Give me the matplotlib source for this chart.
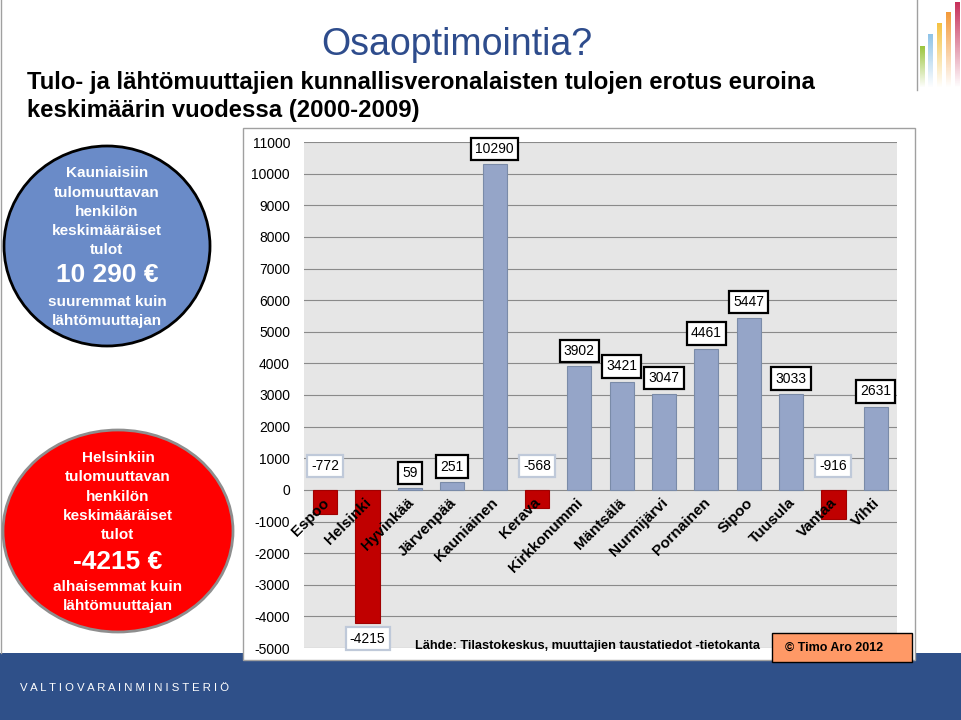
"""Slide: difference of in- and out-migrants' taxable income by municipality."""

import numpy as np
import matplotlib.pyplot as plt
from matplotlib.patches import Rectangle, Ellipse

plt.rcParams['font.family'] = ['Liberation Sans', 'DejaVu Sans']

W, H = 962, 720

municipalities = ["Espoo", "Helsinki", "Hyvinkää", "Järvenpää", "Kauniainen",
                  "Kerava", "Kirkkonummi", "Mäntsälä", "Nurmijärvi", "Pornainen",
                  "Sipoo", "Tuusula", "Vantaa", "Vihti"]
income_diff = [-772, -4215, 59, 251, 10290, -568, 3902, 3421, 3047, 4461,
               5447, 3033, -916, 2631]
y_ticks = list(range(-5000, 11001, 1000))

title = "Osaoptimointia?"
subtitle = ["Tulo- ja lähtömuuttajien kunnallisveronalaisten tulojen erotus euroina",
            "keskimäärin vuodessa (2000-2009)"]
blue_lines = ["Kauniaisiin", "tulomuuttavan", "henkilön", "keskimääräiset", "tulot"]
blue_big = "10 290 €"
blue_tail = ["suuremmat kuin", "lähtömuuttajan"]
red_lines = ["Helsinkiin", "tulomuuttavan", "henkilön", "keskimääräiset", "tulot"]
red_big = "-4215 €"
red_tail = ["alhaisemmat kuin", "lähtömuuttajan"]
source = "Lähde: Tilastokeskus, muuttajien taustatiedot -tietokanta"
credit = "© Timo Aro 2012"
ministry = "VALTIOVARAINMINISTERIÖ"

POS_COLOR = "#95A5C8"
NEG_COLOR = "#C00000"


def fx(px):
    return px / W


def fy(py):
    return 1 - py / H


fig = plt.figure(figsize=(W / 100, H / 100), dpi=100)
fig.patch.set_facecolor("white")

# footer band
fig.add_artist(Rectangle((0, 0), 1, fy(653), transform=fig.transFigure,
                         facecolor="#2F5089", edgecolor="none", zorder=0))
fig.text(fx(20), fy(688), " ".join(ministry), color="white", fontsize=8.2,
         va="center", ha="left")

# left slide border
fig.add_artist(plt.Line2D([fx(1), fx(1)], [fy(0), fy(653)], transform=fig.transFigure,
                          color="#A0A0A0", lw=1))

# logo in the top right corner
fig.add_artist(plt.Line2D([fx(917), fx(917)], [fy(0), fy(90)], transform=fig.transFigure,
                          color="#A0A0A0", lw=1))
logo_ax = fig.add_axes([fx(918), fy(92), fx(44), 92 / H])
logo_ax.set_xlim(0, 44)
logo_ax.set_ylim(92, 0)
logo_ax.axis("off")
logo_bars = [(2, 46, "#9BC53D"), (10, 34, "#8EC3E8"), (19, 23, "#F5C242"),
             (28, 12, "#F39A3A"), (37, 2, "#C8305A")]
for x0, top, col in logo_bars:
    rgb = np.array(plt.matplotlib.colors.to_rgb(col))
    grad = np.linspace(1, 0, 50)[:, None]
    img = np.ones((50, 1, 4))
    img[..., :3] = rgb
    img[..., 3] = grad
    logo_ax.imshow(img, extent=(x0, x0 + 5, 88, top), aspect="auto")

# titles
fig.text(fx(457), fy(45), title, color="#2E4C8C", fontsize=27, ha="center",
         va="center")
fig.text(fx(27), fy(82), subtitle[0], color="black", fontsize=17.2,
         fontweight="bold", ha="left", va="center")
fig.text(fx(27), fy(110), subtitle[1], color="black", fontsize=17.2,
         fontweight="bold", ha="left", va="center")

# chart frame
fig.add_artist(Rectangle((fx(243), fy(660)), fx(915 - 243), (660 - 128) / H,
                         transform=fig.transFigure, facecolor="white",
                         edgecolor="#A0A0A0", lw=1, zorder=1))

ax = fig.add_axes([fx(304), fy(648), fx(897 - 304), (648 - 142) / H], zorder=2)
ax.set_facecolor("#E6E6E6")
x = np.arange(len(municipalities))
colors = [POS_COLOR if v >= 0 else NEG_COLOR for v in income_diff]
edges = ["#7A8BA8" if v >= 0 else "#A00000" for v in income_diff]
ax.bar(x, income_diff, width=0.57, color=colors, edgecolor=edges, lw=0.8, zorder=3)
ax.set_xlim(-0.5, len(municipalities) - 0.5)
ax.set_ylim(-5000, 11000)
ax.set_yticks(y_ticks)
ax.set_yticklabels([str(t) for t in y_ticks], fontsize=10)
ax.yaxis.grid(True, color="#8A8A8A", lw=0.8, zorder=1)
ax.set_axisbelow(True)
ax.tick_params(axis="y", length=0, pad=10)
ax.set_xticks([])
for s in ax.spines.values():
    s.set_visible(False)

for i, (name, v) in enumerate(zip(municipalities, income_diff)):
    ax.text(i - 0.08, -180, name, rotation=45, rotation_mode="anchor",
            ha="right", va="top", fontsize=11, fontweight="bold", zorder=5)
    if v >= 0:
        box = dict(boxstyle="square,pad=0.3", fc="white", ec="black", lw=1.6)
        ax.annotate(str(v), (i, v), xytext=(0, 6), textcoords="offset points",
                    ha="center", va="bottom", fontsize=10, bbox=box, zorder=6)
    else:
        box = dict(boxstyle="square,pad=0.3", fc="white", ec="#BFC9D9", lw=1.6)
        if v < -2000:
            ax.annotate(str(v), (i, v), xytext=(0, -6), textcoords="offset points",
                        ha="center", va="top", fontsize=10, bbox=box, zorder=6)
        else:
            ax.annotate(str(v), (i, 0), xytext=(0, 12), textcoords="offset points",
                        ha="center", va="bottom", fontsize=10, bbox=box, zorder=6)

# source and credit
fig.text(fx(415), fy(646), source, fontsize=9.2, fontweight="bold",
         ha="left", va="center", zorder=5)
fig.add_artist(Rectangle((fx(772), fy(662)), fx(912 - 772), (662 - 633) / H,
                         transform=fig.transFigure, facecolor="#FF9966",
                         edgecolor="black", lw=1, zorder=5))
fig.text(fx(785), fy(648), credit, fontsize=9, fontweight="bold",
         ha="left", va="center", zorder=6)

# side circles
fig.add_artist(Ellipse((fx(107), fy(246)), 2 * 103 / W, 2 * 100 / H,
                       transform=fig.transFigure, facecolor="#6A8BC8",
                       edgecolor="black", lw=2, zorder=3))
fig.add_artist(Ellipse((fx(118), fy(531)), 2 * 115 / W, 2 * 101 / H,
                       transform=fig.transFigure, facecolor="#FF0000",
                       edgecolor="#8E8E8E", lw=2, zorder=3))


def circle_text(cx, ys, lines, big, tail, big_y, tail_ys):
    for yy, line in zip(ys, lines):
        fig.text(fx(cx), fy(yy), line, color="white", fontsize=11,
                 fontweight="bold", ha="center", va="center", zorder=4)
    fig.text(fx(cx), fy(big_y), big, color="white", fontsize=19,
             fontweight="bold", ha="center", va="center", zorder=4)
    for yy, line in zip(tail_ys, tail):
        fig.text(fx(cx), fy(yy), line, color="white", fontsize=11,
                 fontweight="bold", ha="center", va="center", zorder=4)


circle_text(107, [173, 193, 212, 231, 250], blue_lines, blue_big, blue_tail,
            275, [302, 321])
circle_text(118, [458, 477, 497, 516, 535], red_lines, red_big, red_tail,
            562, [587, 606])

fig.savefig("out.png", dpi=100)
